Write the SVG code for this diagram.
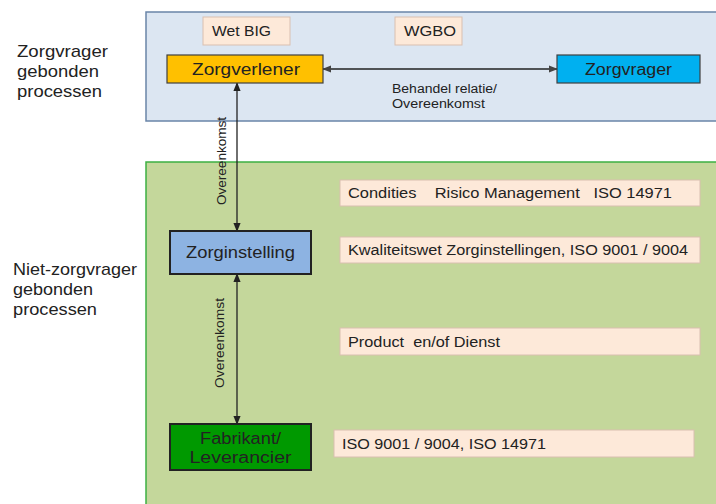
<svg xmlns="http://www.w3.org/2000/svg" width="716" height="504" viewBox="0 0 716 504">
<defs>
<style>
text{font-family:"Liberation Sans",Arial,sans-serif;fill:#222}
.lbl{font-size:17px}
.node{font-size:16px;text-anchor:middle}
.note{fill:#fde9d9;stroke:#d9bfb0;stroke-width:1}
.nt{font-size:14px}
.small{font-size:12px}
.conn{stroke:#222;stroke-width:1.3;fill:none}
</style>
<marker id="ah" viewBox="0 0 10 10" refX="9" refY="5" markerWidth="7" markerHeight="7" orient="auto-start-reverse">
<path d="M0,1 L10,5 L0,9 z" fill="#222"/>
</marker>
<marker id="ahg" viewBox="0 0 10 10" refX="9" refY="5" markerWidth="7" markerHeight="7" orient="auto-start-reverse">
<path d="M0,1 L10,5 L0,9 z" fill="#444"/>
</marker>
</defs>
<rect width="716" height="504" fill="#fff"/>
<g id="panel-top">
<rect x="146" y="12" width="580" height="109" fill="#dce6f2" stroke="#6a85a8" stroke-width="1.5"/>
</g>
<g id="panel-bottom">
<rect x="146" y="162" width="580" height="350" fill="#c4d79b" stroke="#3cb043" stroke-width="1.5"/>
</g>
<g id="side-labels">
<text class="lbl" x="17" y="57" textLength="91" lengthAdjust="spacingAndGlyphs">Zorgvrager</text>
<text class="lbl" x="17" y="77" textLength="82" lengthAdjust="spacingAndGlyphs">gebonden</text>
<text class="lbl" x="17" y="97" textLength="85" lengthAdjust="spacingAndGlyphs">processen</text>
<text class="lbl" x="13" y="275" textLength="124" lengthAdjust="spacingAndGlyphs">Niet-zorgvrager</text>
<text class="lbl" x="13" y="295" textLength="80" lengthAdjust="spacingAndGlyphs">gebonden</text>
<text class="lbl" x="13" y="315" textLength="84" lengthAdjust="spacingAndGlyphs">processen</text>
</g>
<g id="connectors">
<line class="conn" x1="323" y1="69" x2="557" y2="69" stroke="#444" marker-start="url(#ahg)" marker-end="url(#ahg)"/>
<line class="conn" x1="237" y1="83" x2="237" y2="231" marker-start="url(#ah)" marker-end="url(#ah)"/>
<line class="conn" x1="237" y1="274" x2="237" y2="424" marker-start="url(#ah)" marker-end="url(#ah)"/>
<text class="small" x="392" y="93" textLength="105" lengthAdjust="spacingAndGlyphs">Behandel relatie/</text>
<text class="small" x="392" y="108" textLength="93" lengthAdjust="spacingAndGlyphs">Overeenkomst</text>
<text class="small" transform="translate(226,161) rotate(-90)" x="-44" textLength="88" lengthAdjust="spacingAndGlyphs">Overeenkomst</text>
<text class="small" transform="translate(224,343) rotate(-90)" x="-45" textLength="90" lengthAdjust="spacingAndGlyphs">Overeenkomst</text>
</g>
<g id="wetbig">
<rect class="note" x="203" y="17" width="87" height="28"/>
<text class="nt" x="212" y="36" textLength="59" lengthAdjust="spacingAndGlyphs">Wet BIG</text>
</g>
<g id="wgbo">
<rect class="note" x="395" y="17" width="67" height="28"/>
<text class="nt" x="404" y="36" textLength="52" lengthAdjust="spacingAndGlyphs">WGBO</text>
</g>
<g id="zorgverlener">
<rect x="167" y="55" width="156" height="28" fill="#ffc000" stroke="#404040" stroke-width="1.2"/>
<text class="node" x="246" y="75" textLength="108" lengthAdjust="spacingAndGlyphs">Zorgverlener</text>
</g>
<g id="zorgvrager">
<rect x="557" y="55" width="143" height="28" fill="#00b0f0" stroke="#404040" stroke-width="1.2"/>
<text class="node" x="628.5" y="75" textLength="87" lengthAdjust="spacingAndGlyphs">Zorgvrager</text>
</g>
<g id="zorginstelling">
<rect x="170" y="231" width="141" height="43" fill="#8db3e2" stroke="#222" stroke-width="2"/>
<text class="node" x="240.5" y="258" textLength="109" lengthAdjust="spacingAndGlyphs">Zorginstelling</text>
</g>
<g id="fabrikant">
<rect x="170" y="424" width="141" height="46" fill="#009900" stroke="#222" stroke-width="2"/>
<text class="node" x="240.5" y="444" textLength="81" lengthAdjust="spacingAndGlyphs">Fabrikant/</text>
<text class="node" x="240.5" y="463" textLength="102" lengthAdjust="spacingAndGlyphs">Leverancier</text>
</g>
<g id="condities">
<rect class="note" x="340" y="180" width="360" height="26"/>
<text class="nt" x="348" y="198" xml:space="preserve" textLength="324" lengthAdjust="spacingAndGlyphs">Condities    Risico Management   ISO 14971</text>
</g>
<g id="kwaliteitswet">
<rect class="note" x="340" y="237" width="360" height="26"/>
<text class="nt" x="348" y="255" textLength="340" lengthAdjust="spacingAndGlyphs">Kwaliteitswet Zorginstellingen, ISO 9001 / 9004</text>
</g>
<g id="product">
<rect class="note" x="340" y="328" width="360" height="27"/>
<text class="nt" x="348" y="347" xml:space="preserve" textLength="152" lengthAdjust="spacingAndGlyphs">Product  en/of Dienst</text>
</g>
<g id="iso">
<rect class="note" x="334" y="430" width="360" height="27"/>
<text class="nt" x="342" y="449" textLength="204" lengthAdjust="spacingAndGlyphs">ISO 9001 / 9004, ISO 14971</text>
</g>
</svg>
